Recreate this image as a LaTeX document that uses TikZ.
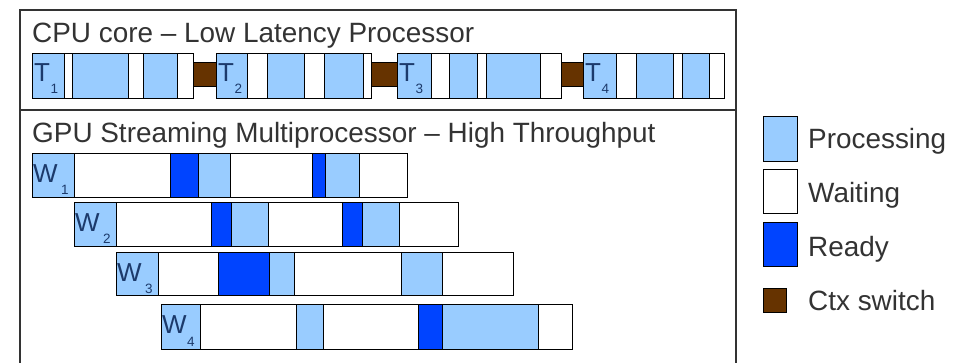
\documentclass[tikz,border=0pt]{standalone}
\usepackage{fontspec}
\setmainfont{Liberation Sans}
\definecolor{procblue}{HTML}{99CCFF}
\definecolor{readyblue}{HTML}{0044FF}
\definecolor{ctxbrown}{HTML}{663300}
\definecolor{txtgray}{HTML}{333333}
\definecolor{lblnavy}{HTML}{1C3A6B}
\tikzset{
  segbase/.style={draw=black, line width=1pt},
  proc/.style={segbase, fill=procblue},
  wait/.style={segbase, fill=white},
  ready/.style={segbase, fill=readyblue},
  ctx/.style={segbase, fill=ctxbrown},
  title/.style={anchor=base west, inner sep=0pt, text=txtgray, font=\fontsize{27.9}{30}\selectfont},
  lbl/.style={anchor=base west, inner sep=0pt, text=lblnavy, font=\fontsize{26}{28}\selectfont},
  sublbl/.style={anchor=base west, inner sep=0pt, text=lblnavy, font=\fontsize{13.5}{15}\selectfont},
  frame/.style={draw=txtgray, line width=1.2pt}
}
% \seg{style}{x1}{x2}{y1}{y2}
\newcommand{\seg}[5]{\draw[#1] (#2,#4) rectangle (#3,#5);}
\begin{document}
\begin{tikzpicture}[x=1pt, y=-1pt]
\useasboundingbox (0,0) rectangle (961,363);
% outer frame
\begin{scope}
\clip (0,0) rectangle (961,363);
\draw[frame] (20,10) rectangle (736,380);
\draw[frame] (20,110) -- (736,110);
\end{scope}
\node[title] (cputitle) at (32,43) {CPU core – Low Latency Processor};
\node[title] (gputitle) at (32,142.5) {GPU Streaming Multiprocessor – High Throughput};
% CPU row
\def\ya{54}\def\yb{99}\def\ca{63}\def\cb{87}
\seg{proc}{32}{64}{\ya}{\yb}
\seg{wait}{64}{72.7}{\ya}{\yb}
\seg{proc}{72.7}{128}{\ya}{\yb}
\seg{wait}{128}{143}{\ya}{\yb}
\seg{proc}{143}{177}{\ya}{\yb}
\seg{wait}{177}{193}{\ya}{\yb}
\seg{ctx}{193}{216}{\ca}{\cb}
\seg{proc}{216}{247}{\ya}{\yb}
\seg{wait}{247}{267}{\ya}{\yb}
\seg{proc}{267}{304}{\ya}{\yb}
\seg{wait}{304}{324}{\ya}{\yb}
\seg{proc}{324}{363}{\ya}{\yb}
\seg{wait}{363}{371}{\ya}{\yb}
\seg{ctx}{371}{397}{\ca}{\cb}
\seg{proc}{397}{431}{\ya}{\yb}
\seg{wait}{431}{449}{\ya}{\yb}
\seg{proc}{449}{477}{\ya}{\yb}
\seg{wait}{477}{486}{\ya}{\yb}
\seg{proc}{486}{540}{\ya}{\yb}
\seg{wait}{540}{561}{\ya}{\yb}
\seg{ctx}{561}{583}{\ca}{\cb}
\seg{proc}{583}{616}{\ya}{\yb}
\seg{wait}{616}{636}{\ya}{\yb}
\seg{proc}{636}{673}{\ya}{\yb}
\seg{wait}{673}{682}{\ya}{\yb}
\seg{proc}{682}{709}{\ya}{\yb}
\seg{wait}{709}{724}{\ya}{\yb}
\node[lbl] (t1) at (34,82) {T};   \node[sublbl] (t1s) at (50.5,94) {1};
\node[lbl] (t2) at (218,82) {T};  \node[sublbl] (t2s) at (234.5,94) {2};
\node[lbl] (t3) at (399,82) {T};  \node[sublbl] (t3s) at (415.5,94) {3};
\node[lbl] (t4) at (585,82) {T};  \node[sublbl] (t4s) at (601.5,94) {4};
% GPU W1
\def\ya{154}\def\yb{198}
\seg{proc}{32}{74}{\ya}{\yb}
\seg{wait}{74}{170}{\ya}{\yb}
\seg{ready}{170}{198}{\ya}{\yb}
\seg{proc}{198}{230}{\ya}{\yb}
\seg{wait}{230}{312}{\ya}{\yb}
\seg{ready}{312}{325}{\ya}{\yb}
\seg{proc}{325}{359}{\ya}{\yb}
\seg{wait}{359}{407}{\ya}{\yb}
\node[lbl] (w1) at (33,182.5) {W}; \node[sublbl] (w1s) at (61,195) {1};
% GPU W2
\def\ya{203}\def\yb{247}
\seg{proc}{74}{116}{\ya}{\yb}
\seg{wait}{116}{211}{\ya}{\yb}
\seg{ready}{211}{231}{\ya}{\yb}
\seg{proc}{231}{268}{\ya}{\yb}
\seg{wait}{268}{342}{\ya}{\yb}
\seg{ready}{342}{362}{\ya}{\yb}
\seg{proc}{362}{399}{\ya}{\yb}
\seg{wait}{399}{458}{\ya}{\yb}
\node[lbl] (w2) at (75,231.5) {W}; \node[sublbl] (w2s) at (103,244) {2};
% GPU W3
\def\ya{253}\def\yb{296}
\seg{proc}{116}{158}{\ya}{\yb}
\seg{wait}{158}{218}{\ya}{\yb}
\seg{ready}{218}{269}{\ya}{\yb}
\seg{proc}{269}{294}{\ya}{\yb}
\seg{wait}{294}{401}{\ya}{\yb}
\seg{proc}{401}{442}{\ya}{\yb}
\seg{wait}{442}{513}{\ya}{\yb}
\node[lbl] (w3) at (117,281.5) {W}; \node[sublbl] (w3s) at (145,294) {3};
% GPU W4
\def\ya{305}\def\yb{349}
\seg{proc}{161}{200}{\ya}{\yb}
\seg{wait}{200}{296}{\ya}{\yb}
\seg{proc}{296}{323}{\ya}{\yb}
\seg{wait}{323}{418}{\ya}{\yb}
\seg{ready}{418}{442}{\ya}{\yb}
\seg{proc}{442}{538}{\ya}{\yb}
\seg{wait}{538}{572}{\ya}{\yb}
\node[lbl] (w4) at (162,333.5) {W}; \node[sublbl] (w4s) at (187,346) {4};
% legend
\seg{proc}{763}{797}{117}{162}
\seg{wait}{763}{797}{170}{214}
\seg{ready}{763}{797}{223}{267}
\seg{ctx}{763}{786}{289}{313}
\node[title] (lgproc) at (808,149) {Processing};
\node[title] (lgwait) at (808,202.5) {Waiting};
\node[title] (lgready) at (808,256.5) {Ready};
\node[title] (lgctx) at (808,310.5) {Ctx switch};
\end{tikzpicture}
\end{document}
